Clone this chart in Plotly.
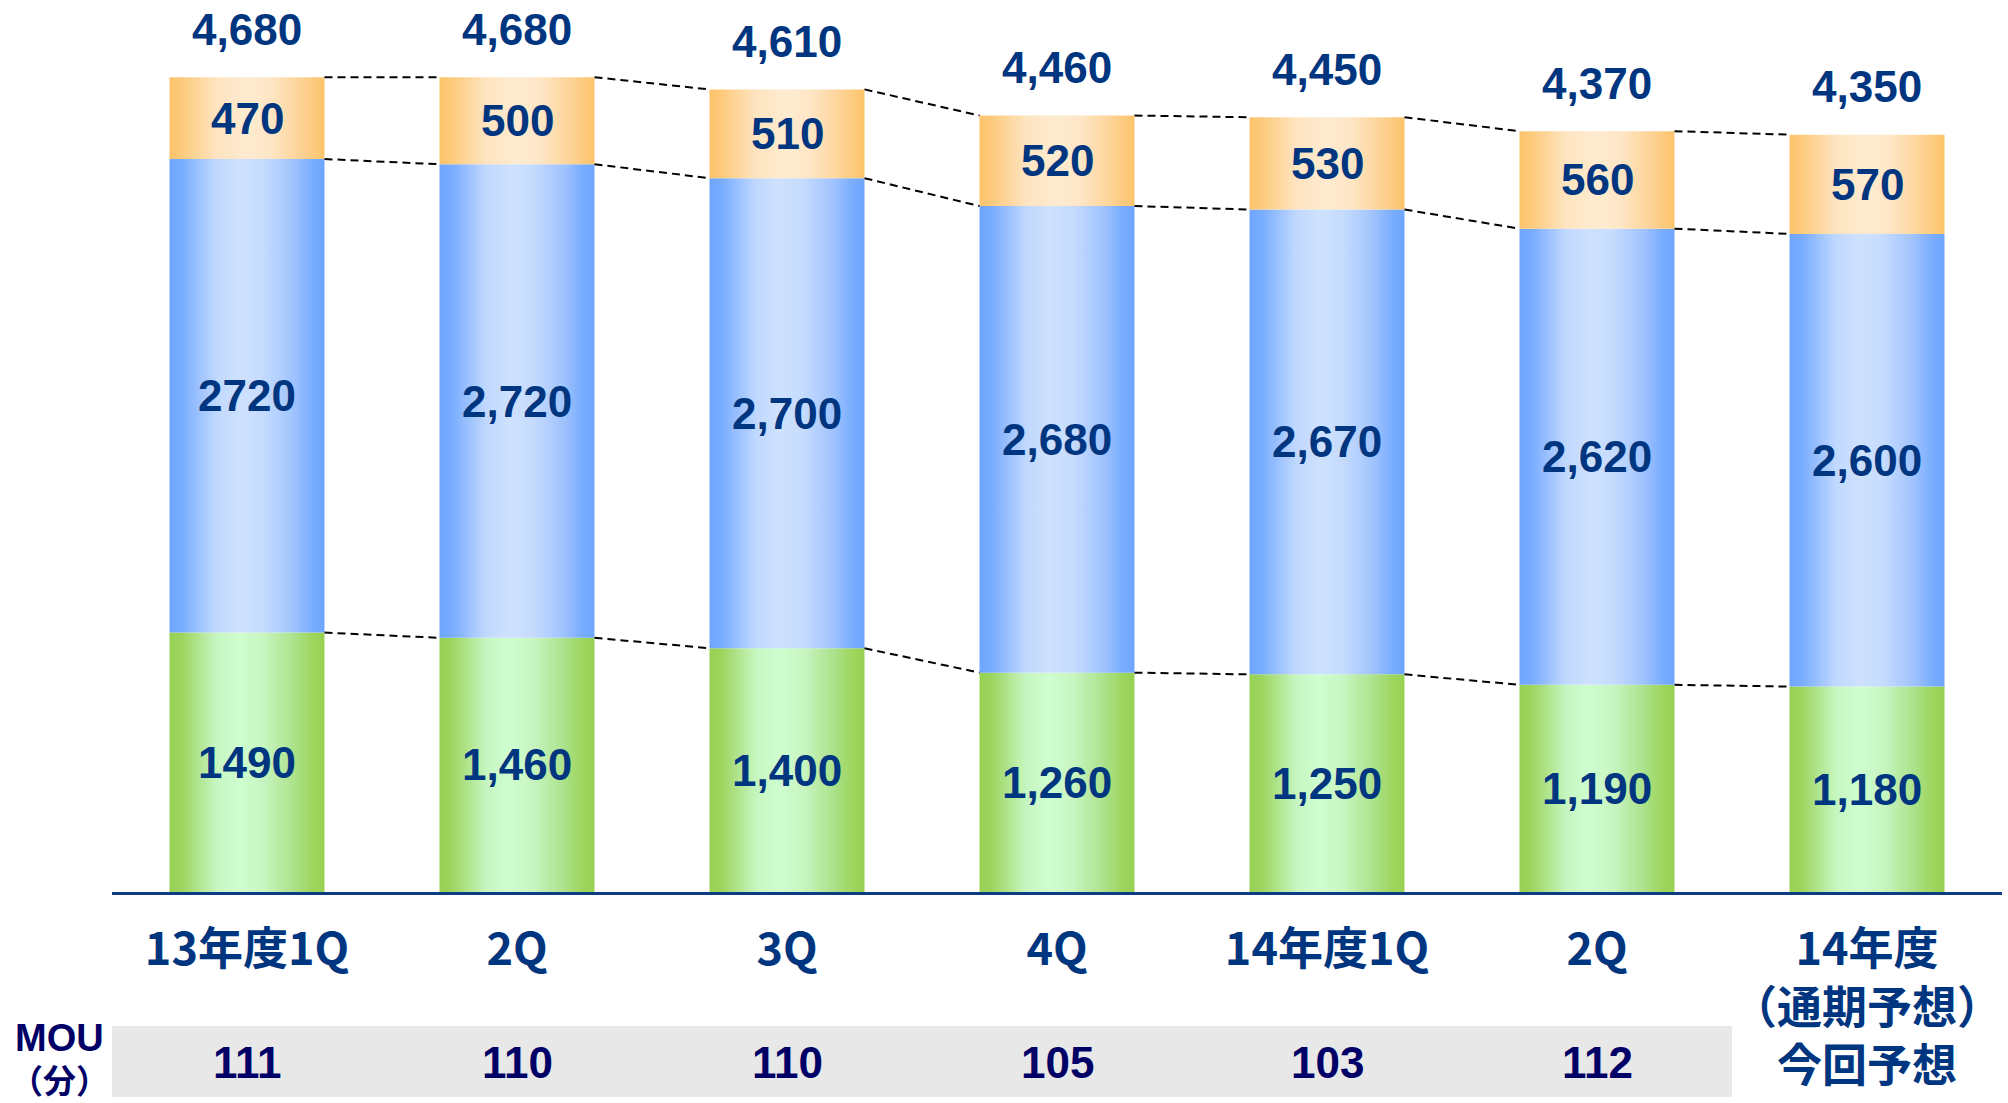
import plotly.graph_objects as go

# Quarterly ARPU breakdown (円) and MOU (分)
categories = ["13年度1Q", "2Q", "3Q", "4Q", "14年度1Q", "2Q", "14年度<br>（通期予想）<br>今回予想"]
voice = [1490, 1460, 1400, 1260, 1250, 1190, 1180]
data = [2720, 2720, 2700, 2680, 2670, 2620, 2600]
other = [470, 500, 510, 520, 530, 560, 570]
totals = [4680, 4680, 4610, 4460, 4450, 4370, 4350]
mou = [111, 110, 110, 105, 103, 112]
segment_commas = [False, True, True, True, True, True, True]

NAVY = "#003580"
DEEP = "#000066"
BAR_W = 0.574
LABEL_FONT = "Liberation Sans, Arial, sans-serif"
CJK_FONT = "Noto Sans CJK JP, sans-serif"

# horizontal shading of each stacked layer
scales = {
    "voice": [[0, "#96D152"], [0.08, "#9DD55F"], [0.3, "#C6F6C0"], [0.45, "#CEFECF"],
              [0.6, "#C8F6C2"], [0.8, "#ACE28C"], [0.92, "#9ED65F"], [1, "#96D152"]],
    "data": [[0, "#6EA6FE"], [0.08, "#78ACFE"], [0.3, "#C0D8FE"], [0.45, "#CEE1FE"],
             [0.6, "#C6DCFE"], [0.8, "#A0C3FE"], [0.92, "#79ADFE"], [1, "#6EA6FE"]],
    "other": [[0, "#FDC36A"], [0.08, "#FDCA7C"], [0.3, "#FEE4C0"], [0.5, "#FEEBD0"],
              [0.65, "#FEE6C6"], [0.85, "#FDD395"], [1, "#FDC36A"]],
}

# plot geometry (px)
W, H = 2008, 1103
M_L, M_R, M_T, M_B = 112, 6, 10, 211
PLOT_H = H - M_T - M_B
AXIS_Y = H - M_B
Y_MAX = 5066


def paper_y(px):
    return (AXIS_Y - px) / PLOT_H


fig = go.Figure()
annotations = []

for i in range(len(categories)):
    layers = [("voice", voice[i]), ("data", data[i]), ("other", other[i])]
    base = 0
    for name, val in layers:
        x0, x1 = i - BAR_W / 2, i + BAR_W / 2
        top = base + val
        fig.add_trace(go.Scatter(
            x=[x0, x1, x1, x0, x0], y=[base, base, top, top, base],
            mode="lines", line=dict(width=0), fill="toself",
            fillgradient=dict(type="horizontal", colorscale=scales[name]),
            hoverinfo="skip", showlegend=False,
        ))
        txt = f"{val:,}" if segment_commas[i] else f"{val}"
        annotations.append(dict(
            x=i, y=base + val / 2, xref="x", yref="y", text=txt, showarrow=False,
            font=dict(family=LABEL_FONT, size=44, color=NAVY, weight="bold"),
        ))
        base = top
    annotations.append(dict(
        x=i, y=totals[i], xref="x", yref="y", text=f"{totals[i]:,}", showarrow=False,
        yanchor="middle", yshift=48,
        font=dict(family=LABEL_FONT, size=44, color=NAVY, weight="bold"),
    ))

# dashed connectors between neighbouring bars at each layer boundary
levels = [
    voice,
    [v + d for v, d in zip(voice, data)],
    [v + d + o for v, d, o in zip(voice, data, other)],
]
cx, cy = [], []
for lvl in levels:
    for i in range(len(categories) - 1):
        cx += [i + BAR_W / 2, i + 1 - BAR_W / 2, None]
        cy += [lvl[i], lvl[i + 1], None]
fig.add_trace(go.Scatter(
    x=cx, y=cy, mode="lines", line=dict(color="black", width=2, dash="8px,5px"),
    hoverinfo="skip", showlegend=False,
))

# MOU row
fig.add_shape(type="rect", xref="x", yref="paper", x0=-0.5, x1=5.5,
              y0=paper_y(1097), y1=paper_y(1026), fillcolor="#E8E8E8",
              line=dict(width=0), layer="below")
for i, m in enumerate(mou):
    annotations.append(dict(
        x=i, y=paper_y(1062), xref="x", yref="paper", text=str(m), showarrow=False,
        yanchor="middle",
        font=dict(family=LABEL_FONT, size=44, color=DEEP, weight="bold"),
    ))
annotations.append(dict(
    x=-0.5, xshift=-53, y=paper_y(1038), xref="x", yref="paper", text="MOU",
    showarrow=False, yanchor="middle",
    font=dict(family=LABEL_FONT, size=38, color=DEEP, weight="bold"),
))
annotations.append(dict(
    x=-0.5, xshift=-53, y=paper_y(1079), xref="x", yref="paper", text="（分）",
    showarrow=False, yanchor="middle",
    font=dict(family=CJK_FONT, size=33, color=DEEP, weight="bold"),
))

fig.update_layout(
    width=W, height=H,
    margin=dict(l=M_L, r=M_R, t=M_T, b=M_B),
    paper_bgcolor="white", plot_bgcolor="white",
    showlegend=False,
    annotations=annotations,
    xaxis=dict(
        range=[-0.5, len(categories) - 0.5], tickvals=list(range(len(categories))),
        ticktext=categories, showgrid=False, zeroline=False,
        showline=True, linecolor="#0D3C84", linewidth=3, ticks="",
        ticklabelstandoff=16,
        tickfont=dict(family=CJK_FONT, size=45, color=NAVY, weight="bold"),
    ),
    yaxis=dict(range=[0, Y_MAX], visible=False, showgrid=False, zeroline=False),
)

fig.write_html("out.html")
